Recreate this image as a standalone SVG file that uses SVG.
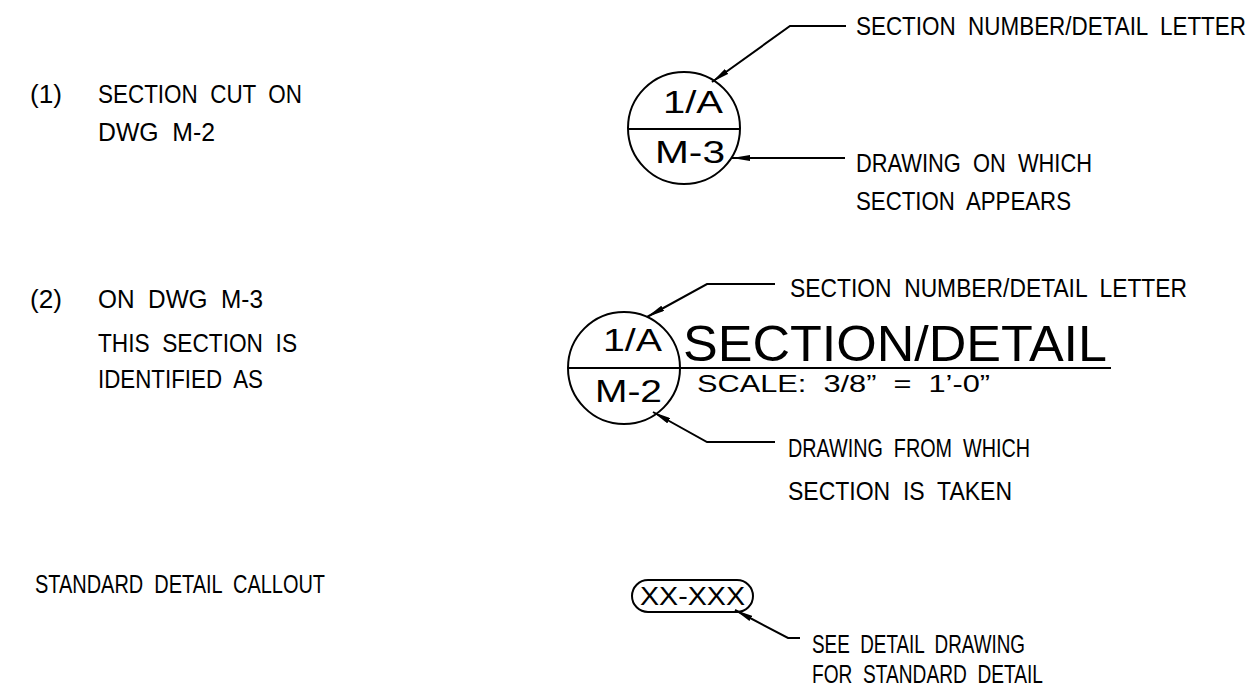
<svg xmlns="http://www.w3.org/2000/svg" width="1255" height="688" viewBox="0 0 1255 688">
<defs>
<style>
text{font-family:"Liberation Sans",Arial,sans-serif;fill:#000;white-space:pre;}
.t{font-size:26px;}
.c{font-size:32px;}
.big{font-size:50px;}
.sc{font-size:24px;}
.ln{fill:none;stroke:#000;stroke-width:2;}
.ldr{fill:none;stroke:#000;stroke-width:2;marker-start:url(#ah);}
</style>
<marker id="ah" viewBox="0 0 18 6" refX="18" refY="3" markerWidth="18" markerHeight="6" markerUnits="userSpaceOnUse" orient="auto-start-reverse">
<path d="M0,0 L18,3 L0,6 z" fill="#000"/>
</marker>
</defs>
<rect width="1255" height="688" fill="#fff"/>

<g id="notes">
<text class="t" x="30" y="103" textLength="32" lengthAdjust="spacingAndGlyphs">(1)</text>
<text class="t" x="98" y="103" textLength="204" lengthAdjust="spacingAndGlyphs">SECTION  CUT  ON</text>
<text class="t" x="98" y="141" textLength="117" lengthAdjust="spacingAndGlyphs">DWG  M-2</text>
<text class="t" x="30" y="308" textLength="32" lengthAdjust="spacingAndGlyphs">(2)</text>
<text class="t" x="98" y="308" textLength="165" lengthAdjust="spacingAndGlyphs">ON  DWG  M-3</text>
<text class="t" x="98" y="352" textLength="199" lengthAdjust="spacingAndGlyphs">THIS  SECTION  IS</text>
<text class="t" x="98" y="388" textLength="165" lengthAdjust="spacingAndGlyphs">IDENTIFIED  AS</text>
<text class="t" x="35" y="593" textLength="290" lengthAdjust="spacingAndGlyphs">STANDARD  DETAIL  CALLOUT</text>
</g>

<g id="symbol-1">
<circle class="ln" cx="684" cy="128" r="56"/>
<line class="ln" x1="628" y1="129" x2="740" y2="129"/>
<text class="c" x="663" y="113" textLength="60" lengthAdjust="spacingAndGlyphs">1/A</text>
<text class="c" x="655" y="163" textLength="70" lengthAdjust="spacingAndGlyphs">M-3</text>
</g>

<g id="label-1a">
<text class="t" transform="translate(856,35) scale(0.857,1)" x="0" y="0" textLength="455" lengthAdjust="spacingAndGlyphs">SECTION  NUMBER/DETAIL  LETTER</text>
</g>
<g id="label-1b">
<text class="t" x="856" y="172" textLength="236" lengthAdjust="spacingAndGlyphs">DRAWING  ON  WHICH</text>
<text class="t" x="856" y="210" textLength="215" lengthAdjust="spacingAndGlyphs">SECTION  APPEARS</text>
</g>

<g id="symbol-2">
<circle class="ln" cx="624" cy="368" r="56"/>
<line class="ln" x1="568" y1="368" x2="1111" y2="368"/>
<text class="c" x="603" y="351" textLength="59" lengthAdjust="spacingAndGlyphs">1/A</text>
<text class="c" x="595" y="402" textLength="67" lengthAdjust="spacingAndGlyphs">M-2</text>
<text class="big" x="683" y="361" textLength="424" lengthAdjust="spacingAndGlyphs">SECTION/DETAIL</text>
<text class="sc" x="697" y="392" textLength="293" lengthAdjust="spacingAndGlyphs">SCALE:  3/8”  =  1’-0”</text>
</g>

<g id="label-2a">
<text class="t" x="790" y="297" textLength="397" lengthAdjust="spacingAndGlyphs">SECTION  NUMBER/DETAIL  LETTER</text>
</g>
<g id="label-2b">
<text class="t" x="788" y="457" textLength="242" lengthAdjust="spacingAndGlyphs">DRAWING  FROM  WHICH</text>
<text class="t" x="788" y="500" textLength="224" lengthAdjust="spacingAndGlyphs">SECTION  IS  TAKEN</text>
</g>

<g id="callout">
<rect class="ln" x="632" y="580" width="121" height="32" rx="16" ry="16"/>
<text class="t" x="640" y="605" textLength="105" lengthAdjust="spacingAndGlyphs">XX-XXX</text>
</g>
<g id="label-3">
<text class="t" x="812" y="653" textLength="213" lengthAdjust="spacingAndGlyphs">SEE  DETAIL  DRAWING</text>
<text class="t" x="812" y="683" textLength="231" lengthAdjust="spacingAndGlyphs">FOR  STANDARD  DETAIL</text>
</g>

<g id="connectors">
<path class="ldr" d="M712,82 L790,26 L846,26"/>
<path class="ldr" d="M732,158 L845,158"/>
<path class="ldr" d="M647,317 L707,284 L775,284"/>
<path class="ldr" d="M653,412 L707,442 L775,442"/>
<path class="ldr" d="M735,610 L788,638 L800,638"/>
</g>
</svg>
